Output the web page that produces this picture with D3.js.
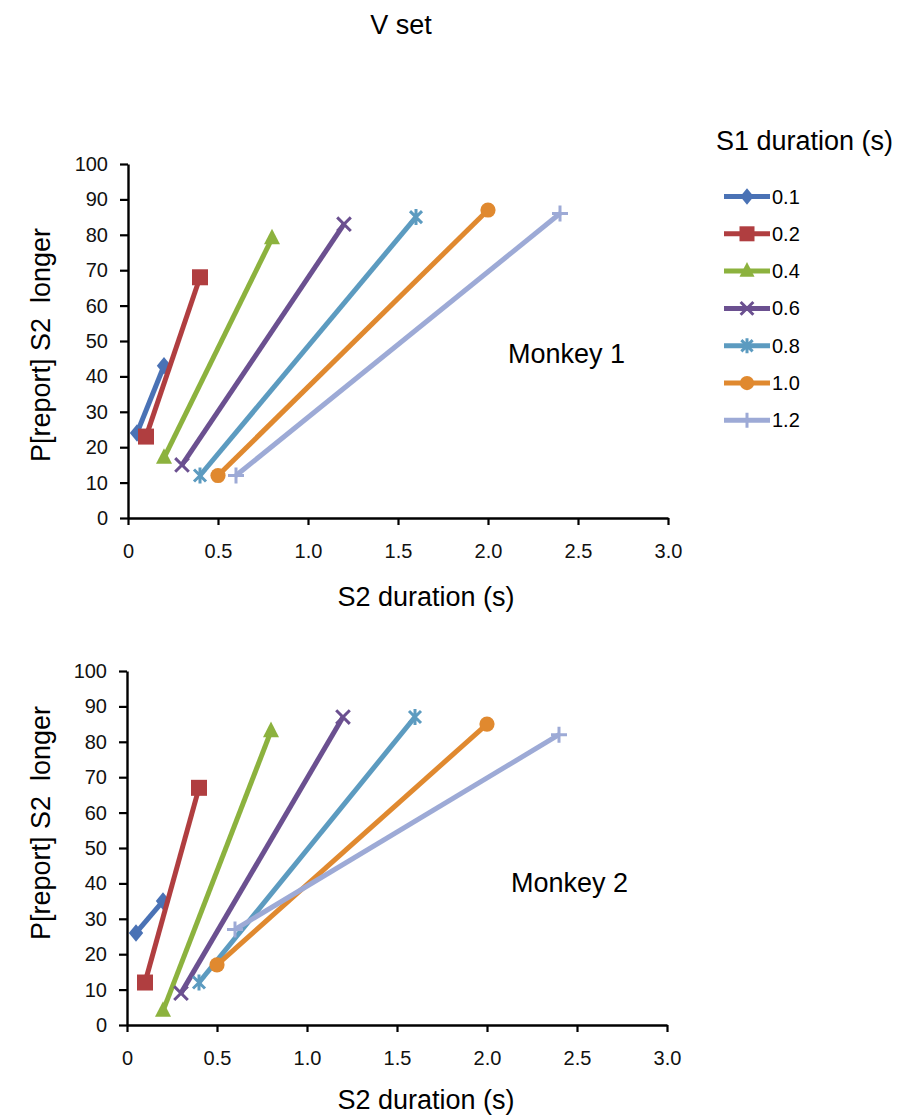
<!DOCTYPE html>
<html>
<head>
<meta charset="utf-8">
<script src="https://cdn.jsdelivr.net/npm/d3@7"></script>
<style>
  body { margin: 0; background: #fff; }
  svg { font-family: "Liberation Sans", Arial, sans-serif; }
  .tick text { font-size: 20px; fill: #111; font-family: "Liberation Sans", Arial, sans-serif; }
</style>
</head>
<body>
<div id="chart"></div>
<script>
// S1 durations (legend) and their colours / marker shapes
const s1Labels = ["0.1", "0.2", "0.4", "0.6", "0.8", "1.0", "1.2"];
const colors = ["#4A72B5", "#B03E40", "#8CB23E", "#6B5090", "#5C9BC0", "#E0892F", "#9DAAD6"];
const markers = ["diamond", "square", "triangle", "x", "star", "circle", "plus"];

// S2 durations (x) for each series: shortest and longest
const s2Values = [
  [0.05, 0.2],
  [0.1, 0.4],
  [0.2, 0.8],
  [0.3, 1.2],
  [0.4, 1.6],
  [0.5, 2.0],
  [0.6, 2.4]
];

// P[report] S2 longer (%) for each monkey
const monkey1 = [
  [24, 43],
  [23, 68],
  [17, 79],
  [15, 83],
  [12, 85],
  [12, 87],
  [12, 86]
];
const monkey2 = [
  [26, 35],
  [12, 67],
  [4, 83],
  [9, 87],
  [12, 87],
  [17, 85],
  [27, 82]
];

const xTicks = [0, 0.5, 1.0, 1.5, 2.0, 2.5, 3.0];
const yTicks = [0, 10, 20, 30, 40, 50, 60, 70, 80, 90, 100];

const width = 899, height = 1117;
const svg = d3.select("#chart").append("svg")
  .attr("width", width).attr("height", height);

svg.append("text")
  .attr("x", 401).attr("y", 34)
  .attr("text-anchor", "middle")
  .attr("font-size", 27)
  .text("V set");

// draw a marker shape centred at 0,0
const drawMarker = (g, type, color, s) => {
  if (type === "diamond") {
    g.append("path").attr("d", `M0,${-s * 1.1}L${s * 0.9},0L0,${s * 1.1}L${-s * 0.9},0Z`).attr("fill", color);
  } else if (type === "square") {
    g.append("rect").attr("x", -s).attr("y", -s)
      .attr("width", s * 2).attr("height", s * 2).attr("fill", color);
  } else if (type === "triangle") {
    g.append("path").attr("d", `M0,${-s * 1.2}L${s},${s * 0.75}L${-s},${s * 0.75}Z`).attr("fill", color);
  } else if (type === "circle") {
    g.append("circle").attr("r", s * 0.95).attr("fill", color);
  } else if (type === "x") {
    const k = s * 0.85;
    g.append("path").attr("d", `M${-k},${-k}L${k},${k}M${-k},${k}L${k},${-k}`)
      .attr("stroke", color).attr("stroke-width", 3);
  } else if (type === "star") {
    const k = s * 0.75;
    g.append("path").attr("d", `M${-k},${-k}L${k},${k}M${-k},${k}L${k},${-k}M0,${-s}L0,${s}`)
      .attr("stroke", color).attr("stroke-width", 3);
  } else if (type === "plus") {
    g.append("path").attr("d", `M0,${-s}L0,${s}M${-s},0L${s},0`)
      .attr("stroke", color).attr("stroke-width", 3);
  }
};

const styleAxis = (a) => {
  a.select(".domain").attr("stroke-width", 2.4);
  a.selectAll(".tick line").attr("stroke-width", 2.2);
};

const drawPanel = (values, top, left, opts) => {
  const x = d3.scaleLinear().domain([0, 3]).range([left, left + 540]);
  const y = d3.scaleLinear().domain([0, 100]).range([top + 354, top]);

  const g = svg.append("g");

  g.append("g")
    .attr("transform", `translate(0,${y(0)})`)
    .call(d3.axisBottom(x).tickValues(xTicks)
      .tickFormat(d => d === 0 ? "0" : d3.format(".1f")(d))
      .tickSize(7).tickSizeOuter(0).tickPadding(19))
    .call(styleAxis);

  g.append("g")
    .attr("transform", `translate(${x(0)},0)`)
    .call(d3.axisLeft(y).tickValues(yTicks).tickSize(8).tickSizeOuter(0).tickPadding(12))
    .call(styleAxis);

  const line = d3.line().x(d => x(d[0])).y(d => y(d[1]));

  s2Values.forEach((xs, i) => {
    const pts = xs.map((v, j) => [v, values[i][j]]);
    g.append("path")
      .attr("d", line(pts))
      .attr("fill", "none")
      .attr("stroke", colors[i])
      .attr("stroke-width", 5);
    pts.forEach(p => {
      const m = g.append("g").attr("transform", `translate(${x(p[0])},${y(p[1])})`);
      drawMarker(m, markers[i], colors[i], 8);
    });
  });

  g.append("text")
    .attr("x", 426).attr("y", y(0) + opts.titleDy)
    .attr("text-anchor", "middle")
    .attr("font-size", 27)
    .text("S2 duration (s)");

  g.append("text")
    .attr("transform", `translate(50,${opts.labelY}) rotate(-90)`)
    .attr("text-anchor", "middle")
    .attr("font-size", 27)
    .text("P[report] S2\u00a0 longer");

  g.append("text")
    .attr("x", opts.textX).attr("y", opts.textY)
    .attr("font-size", 27)
    .text(opts.text);
};

drawPanel(monkey1, 164, 128, { text: "Monkey 1", textX: 508, textY: 363, labelY: 345, titleDy: 88 });
drawPanel(monkey2, 671, 127, { text: "Monkey 2", textX: 511, textY: 892, labelY: 823, titleDy: 84 });

// legend
const legend = svg.append("g");
legend.append("text")
  .attr("x", 716).attr("y", 150)
  .attr("font-size", 27)
  .text("S1 duration (s)");

s1Labels.forEach((lab, i) => {
  const ly = 196.5 + i * 37.3;
  legend.append("line")
    .attr("x1", 724).attr("x2", 770)
    .attr("y1", ly).attr("y2", ly)
    .attr("stroke", colors[i]).attr("stroke-width", 5);
  const m = legend.append("g").attr("transform", `translate(747,${ly})`);
  drawMarker(m, markers[i], colors[i], 7.5);
  legend.append("text")
    .attr("x", 772).attr("y", ly + 7)
    .attr("font-size", 20)
    .text(lab);
});
</script>
</body>
</html>
